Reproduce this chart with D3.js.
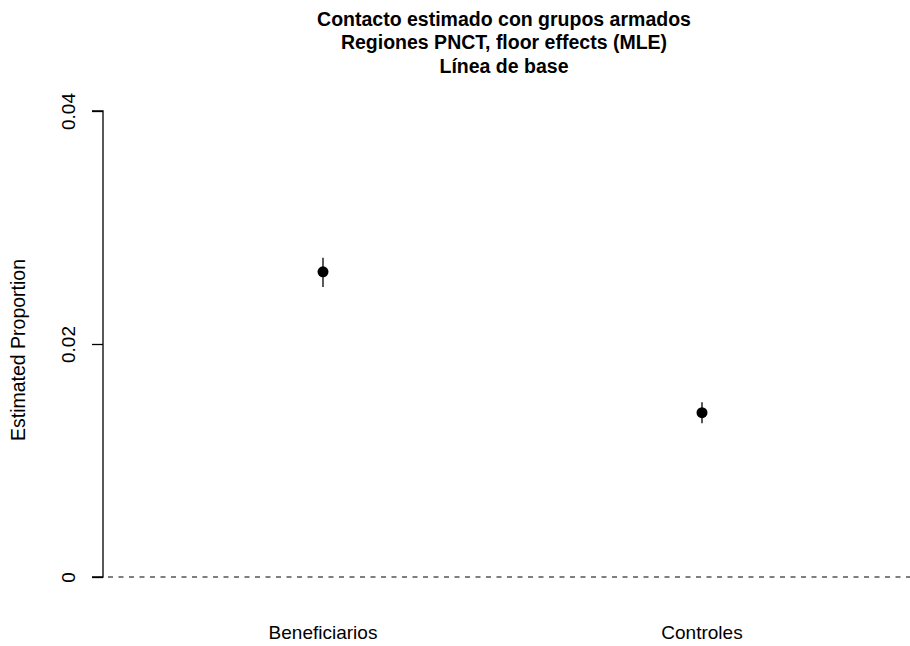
<!DOCTYPE html>
<html><head><meta charset="utf-8">
<script src="https://cdn.jsdelivr.net/npm/d3@7/dist/d3.min.js"></script>
<style>body{margin:0;background:#fff}svg{display:block}text{font-family:"Liberation Sans",Arial,sans-serif;fill:#000}</style>
</head><body>
<script>
const categories = ["Beneficiarios", "Controles"];
const estimates = [0.0262, 0.0141];
const lower = [0.0249, 0.0132];
const upper = [0.0274, 0.0150];
const yTicks = [0, 0.02, 0.04];
const titleLines = ["Contacto estimado con grupos armados", "Regiones PNCT, floor effects (MLE)", "Línea de base"];

const W = 910, H = 646;
const svg = d3.select("body").append("svg").attr("width", W).attr("height", H);
const y = d3.scaleLinear().domain([0, 0.04]).range([577, 111]);
const x = d3.scaleLinear().domain([1, 2]).range([323, 702]);

// title
svg.selectAll("text.title").data(titleLines).enter().append("text")
  .attr("x", 504).attr("y", (d, i) => 25.5 + i * 23.8)
  .attr("text-anchor", "middle").attr("font-weight", "bold").attr("font-size", 19.5)
  .text(d => d);

// y axis
const ax = svg.append("g").attr("transform", "translate(103,0)")
  .call(d3.axisLeft(y).tickValues(yTicks).tickSize(11).tickFormat(d => d === 0 ? "0" : d3.format(".2f")(d)));
ax.select(".domain").attr("stroke", "#000").attr("stroke-width", 1.3).attr("d", `M-11,${y(0.04)}H0V${y(0)}H-11`);
ax.selectAll(".tick line").attr("stroke", "#000").attr("stroke-width", 1.3);
ax.selectAll(".tick text").attr("font-size", 19).attr("fill", "#000")
  .attr("font-family", "Liberation Sans, Arial, sans-serif")
  .attr("transform", "rotate(-90)").attr("text-anchor", "middle")
  .attr("x", 0).attr("dx", 0).attr("y", -28).attr("dy", 0);

// y label
svg.append("text").attr("transform", "translate(25,350) rotate(-90)")
  .attr("text-anchor", "middle").attr("font-size", 19.5).text("Estimated Proportion");

// zero dashed line
svg.append("line").attr("x1", 108).attr("x2", W).attr("y1", y(0)).attr("y2", y(0))
  .attr("stroke", "#000").attr("stroke-width", 1.1).attr("stroke-dasharray", "5,5.5");

// error bars
svg.selectAll("line.err").data(categories).enter().append("line")
  .attr("x1", (d, i) => x(i + 1)).attr("x2", (d, i) => x(i + 1))
  .attr("y1", (d, i) => y(lower[i])).attr("y2", (d, i) => y(upper[i]))
  .attr("stroke", "#000").attr("stroke-width", 1.3);

// points
svg.selectAll("circle").data(categories).enter().append("circle")
  .attr("cx", (d, i) => x(i + 1)).attr("cy", (d, i) => y(estimates[i])).attr("r", 5.5).attr("fill", "#000");

// category labels
svg.selectAll("text.cat").data(categories).enter().append("text")
  .attr("x", (d, i) => x(i + 1)).attr("y", 639).attr("text-anchor", "middle").attr("font-size", 19)
  .text(d => d);
</script>
</body></html>
